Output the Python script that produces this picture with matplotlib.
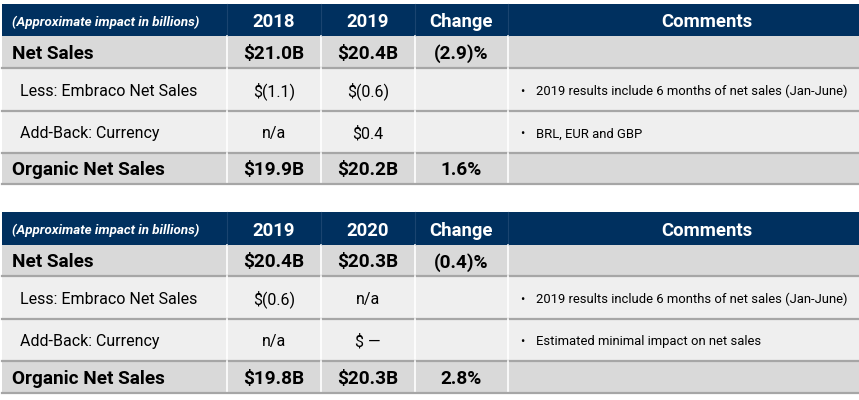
import matplotlib.pyplot as plt
from matplotlib.patches import Rectangle

plt.rcParams['font.family'] = ['Roboto', 'DejaVu Sans']

# table contents
header_note = '(Approximate impact in billions)'
row_labels = ['Net Sales', 'Less: Embraco Net Sales', 'Add-Back: Currency', 'Organic Net Sales']

years_1 = ['2018', '2019']
col_a_1 = ['$21.0B', '$(1.1)', 'n/a', '$19.9B']
col_b_1 = ['$20.4B', '$(0.6)', '$0.4', '$20.2B']
change_1 = ['(2.9)%', '', '', '1.6%']
comments_1 = ['', '2019 results include 6 months of net sales (Jan-June)', 'BRL, EUR and GBP', '']

years_2 = ['2019', '2020']
col_a_2 = ['$20.4B', '$(0.6)', 'n/a', '$19.8B']
col_b_2 = ['$20.3B', 'n/a', '$ \u2014', '$20.3B']
change_2 = ['(0.4)%', '', '', '2.8%']
comments_2 = ['', '2019 results include 6 months of net sales (Jan-June)', 'Estimated minimal impact on net sales', '']

# layout (pixels)
col_edges = [2, 227, 321, 415, 508, 859]
head_x = [274, 368, 461.5, 707]
navy = '#00305f'
dark_row = '#d9d9d9'
light_row = '#efefef'
line_col = '#a6a6a6'

fig = plt.figure(figsize=(8.59, 4.0), dpi=100)
ax = fig.add_axes([0, 0, 1, 1])
ax.set_xlim(0, 859)
ax.set_ylim(400, 0)
ax.axis('off')


def draw_table(top, row_edges, years, col_a, col_b, change, comments):
    # header
    h_bot = row_edges[0]
    ax.add_patch(Rectangle((col_edges[0], top), col_edges[-1] - col_edges[0], h_bot - top,
                           color=navy, lw=0))
    hy = (top + h_bot) / 2 + 2
    ax.text(12, hy, header_note, color='white', fontsize=9.6, fontweight='bold',
            style='italic', va='center', ha='left')
    heads = years + ['Change', 'Comments']
    for i, h in enumerate(heads):
        ax.text(head_x[i], hy, h, color='white', fontsize=13.3, fontweight='bold',
                va='center', ha='center')
    for x in col_edges[1:-1]:
        ax.plot([x, x], [top, h_bot], color='#1a4470', lw=0.8)

    for r in range(4):
        y0 = row_edges[r]
        y1 = row_edges[r + 1]
        bold = r in (0, 3)
        fc = dark_row if bold else light_row
        ax.add_patch(Rectangle((col_edges[0], y0), col_edges[-1] - col_edges[0], y1 - y0,
                               color=fc, lw=0))
        cy = (y0 + y1) / 2 + 1.8
        fw = 'bold' if bold else 'normal'
        fs = 13.7 if bold else 11.5
        ax.text(12 if bold else 20, cy, row_labels[r], fontsize=fs, fontweight=fw,
                va='center', ha='left', color='black')
        vals = [col_a[r], col_b[r], change[r]]
        for i, v in enumerate(vals):
            ax.text(head_x[i], cy, v, fontsize=fs, fontweight=fw, va='center', ha='center',
                    color='black')
        if comments[r]:
            ax.text(520, cy, '\u2022', fontsize=9, va='center', ha='left', color='black')
            ax.text(536, cy, comments[r], fontsize=9.4, va='center', ha='left', color='black')
        for x in col_edges[1:-1]:
            ax.plot([x, x], [y0, y1], color='white', lw=1.2)
        ax.plot([col_edges[0], col_edges[-1]], [y1, y1], color=line_col, lw=1.6)


draw_table(4, [36, 68, 111, 153, 184], years_1, col_a_1, col_b_1, change_1, comments_1)
draw_table(212, [245, 276, 319, 361, 393], years_2, col_a_2, col_b_2, change_2, comments_2)

fig.savefig('out.png', dpi=100)
